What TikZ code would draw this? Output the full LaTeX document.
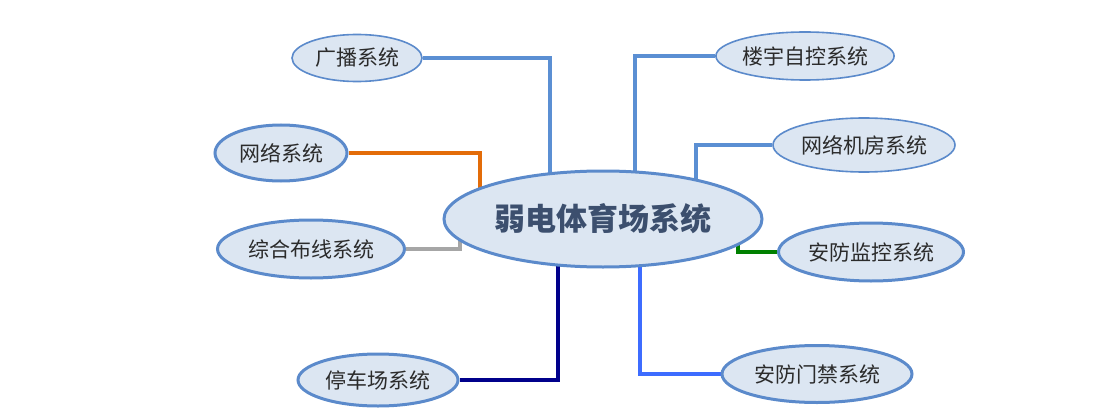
\documentclass[tikz,border=0pt]{standalone}
\usepackage{fontspec}
\newfontfamily\cjk{Noto Sans CJK SC}
\usetikzlibrary{shapes.geometric}
\pgfdeclarelayer{background}
\pgfsetlayers{background,main}
\definecolor{eborder}{HTML}{5B8ACB}
\definecolor{efill}{HTML}{DCE6F2}
\definecolor{ctext}{HTML}{3C4F6E}
\definecolor{stext}{HTML}{2B2B2B}
\definecolor{lblue}{HTML}{5B8FD3}
\definecolor{lorange}{HTML}{E36C09}
\definecolor{lgray}{HTML}{A6A6A6}
\definecolor{lgreen}{HTML}{008000}
\definecolor{lnavy}{HTML}{00008B}
\definecolor{lbright}{HTML}{3D6CFF}
\tikzset{
  sub/.style={ellipse, draw=eborder, fill=efill, inner sep=0pt, text=stext,
    font=\cjk\fontsize{21}{24}\selectfont},
  thinb/.style={line width=1.6pt},
  thickb/.style={line width=3pt},
  conn/.style={line width=3.2pt},
}
\begin{document}
\begin{tikzpicture}[x=1pt,y=-1pt]
\useasboundingbox (0,0) rectangle (1110,417);
\node[ellipse, draw=eborder, fill=efill, line width=3pt, inner sep=0pt,
  minimum width=318, minimum height=96, text=ctext,
  font=\cjk\bfseries\fontsize{31}{36}\selectfont] (c) at (603,219) {弱电体育场系统};
\node[sub, thinb, minimum width=130, minimum height=47] (gb) at (357,58) {广播系统};
\node[sub, thinb, minimum width=176, minimum height=48] (ly) at (805,56) {楼宇自控系统};
\node[sub, thickb, minimum width=132, minimum height=56] (wl) at (281,153) {网络系统};
\node[sub, thinb, minimum width=182, minimum height=54] (jf) at (864,145) {网络机房系统};
\node[sub, thickb, minimum width=187, minimum height=58] (zh) at (311,249) {综合布线系统};
\node[sub, thickb, minimum width=185, minimum height=58] (jk) at (871,252) {安防监控系统};
\node[sub, thickb, minimum width=160, minimum height=52] (tc) at (378,380) {停车场系统};
\node[sub, thickb, minimum width=190, minimum height=57] (mj) at (817,374) {安防门禁系统};
\begin{pgfonlayer}{background}
\draw[conn, lblue] (gb.east) -| ([xshift=-53]c.center);
\draw[conn, lblue] (ly.west) -| ([xshift=32]c.center);
\draw[conn, lorange] (wl.east) -| ([xshift=-123]c.center);
\draw[conn, lblue] (jf.west) -| ([xshift=93]c.center);
\draw[conn, lgray] (zh.east) -| ([xshift=-143]c.center);
\draw[conn, lgreen] (jk.west) -| ([xshift=135]c.center);
\draw[conn, lnavy] (tc.east) -| ([xshift=-45]c.center);
\draw[conn, lbright] (mj.west) -| ([xshift=37]c.center);
\end{pgfonlayer}
\end{tikzpicture}
\end{document}
